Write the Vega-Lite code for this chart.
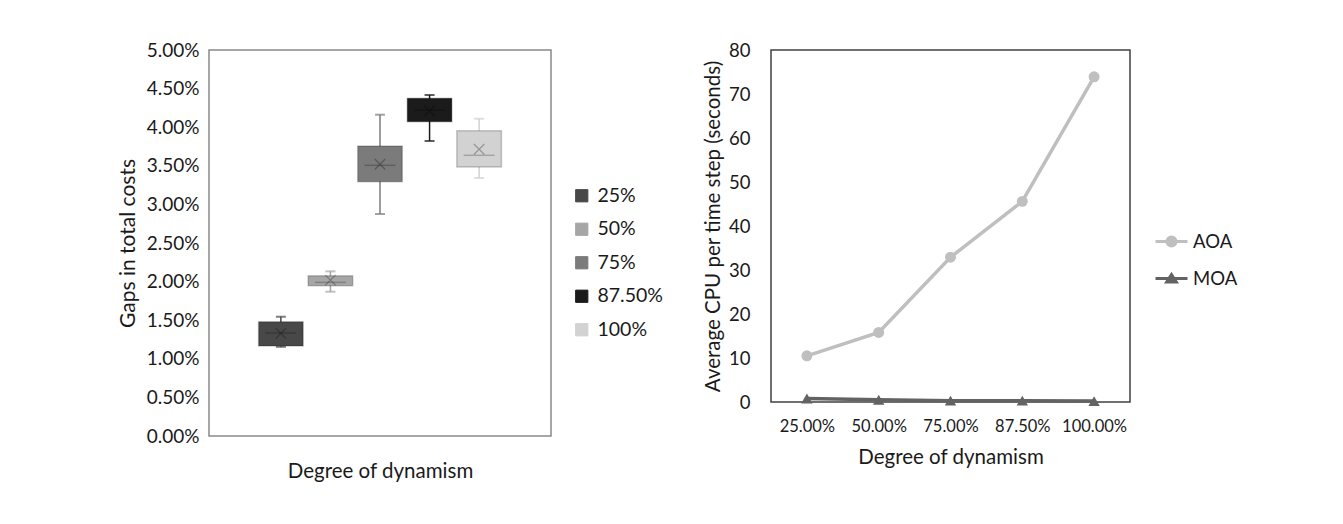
{
  "$schema": "https://vega.github.io/schema/vega-lite/v6.json",
  "background": "white",
  "padding": {"left": 116, "top": 40, "right": 5, "bottom": 5},
  "bounds": "flush",
  "spacing": 220,
  "resolve": {
    "scale": {"x": "independent", "y": "independent", "color": "independent"},
    "legend": {"color": "independent"}
  },
  "config": {
    "font": "Lato",
    "axis": {"labelColor": "#1a1a1a", "titleColor": "#1a1a1a", "titleFontWeight": "normal", "grid": false, "ticks": false, "domain": false, "labelFont": "Lato", "titleFont": "Lato", "labelOverlap": false},
    "legend": {"labelColor": "#1a1a1a", "labelFont": "Lato"}
  },
  "hconcat": [
    {
      "width": 342,
      "height": 386,
      "view": {"stroke": "#898989", "strokeWidth": 1.5},
      "data": {"values": [
        {"series": "25%", "min": 0.01155, "q1": 0.01166, "median": 0.01334, "q3": 0.0148, "max": 0.01545, "mean": 0.0133},
        {"series": "50%", "min": 0.01869, "q1": 0.01947, "median": 0.0199, "q3": 0.02076, "max": 0.02133, "mean": 0.0202},
        {"series": "75%", "min": 0.02876, "q1": 0.03294, "median": 0.03506, "q3": 0.03756, "max": 0.04162, "mean": 0.0352},
        {"series": "87.50%", "min": 0.03821, "q1": 0.0407, "median": 0.0422, "q3": 0.04374, "max": 0.04417, "mean": 0.0421},
        {"series": "100%", "min": 0.03342, "q1": 0.03484, "median": 0.03636, "q3": 0.03955, "max": 0.0411, "mean": 0.03714}
      ]},
      "encoding": {
        "x": {"field": "series", "type": "nominal", "sort": null,
          "scale": {"domain": ["25%", "50%", "75%", "87.50%", "100%"], "paddingInner": 0.1, "paddingOuter": 2.52},
          "axis": {"labels": false, "title": "Degree of dynamism", "titleFontSize": 20.5, "titlePadding": 25}},
        "y": {"field": "min", "type": "quantitative", "scale": {"domain": [0, 0.05]},
          "axis": {"values": [0, 0.005, 0.01, 0.015, 0.02, 0.025, 0.03, 0.035, 0.04, 0.045, 0.05], "labelOverlap": false, "format": ".2%", "labelFontSize": 19, "labelPadding": 10, "title": "Gaps in total costs", "titleFontSize": 21, "titlePadding": 8}}
      },
      "layer": [
        {
          "mark": {"type": "rule", "strokeWidth": 1.5},
          "encoding": {
            "y2": {"field": "max"},
            "color": {"field": "series", "type": "nominal", "sort": null,
              "scale": {"domain": ["25%", "50%", "75%", "87.50%", "100%"], "range": ["#484848", "#a6a6a6", "#7b7b7b", "#1b1b1b", "#d2d2d2"]},
              "legend": {"title": null, "orient": "none", "legendX": 363, "legendY": 136, "padding": 0, "symbolType": "square", "symbolSize": 150, "symbolStrokeWidth": 1, "symbolOpacity": 1, "labelFontSize": 19.5, "labelOffset": 6, "rowPadding": 12.5}}
          }
        },
        {
          "mark": {"type": "tick", "size": 10, "thickness": 2},
          "encoding": {
            "y": {"field": "max", "type": "quantitative"},
            "color": {"field": "series", "type": "nominal", "sort": null,
              "legend": {"title": null, "orient": "none", "legendX": 363, "legendY": 136, "padding": 0, "symbolType": "square", "symbolSize": 150, "symbolStrokeWidth": 1, "symbolOpacity": 1, "labelFontSize": 19.5, "labelOffset": 6, "rowPadding": 12.5}}
          }
        },
        {
          "mark": {"type": "tick", "size": 10, "thickness": 2},
          "encoding": {
            "color": {"field": "series", "type": "nominal", "sort": null,
              "legend": {"title": null, "orient": "none", "legendX": 363, "legendY": 136, "padding": 0, "symbolType": "square", "symbolSize": 150, "symbolStrokeWidth": 1, "symbolOpacity": 1, "labelFontSize": 19.5, "labelOffset": 6, "rowPadding": 12.5}}
          }
        },
        {
          "mark": {"type": "bar", "strokeWidth": 1.5, "stroke": "#000000", "strokeOpacity": 0.2},
          "encoding": {
            "y": {"field": "q1", "type": "quantitative"},
            "y2": {"field": "q3"},
            "color": {"field": "series", "type": "nominal", "sort": null,
              "legend": {"title": null, "orient": "none", "legendX": 363, "legendY": 136, "padding": 0, "symbolType": "square", "symbolSize": 150, "symbolStrokeWidth": 1, "symbolOpacity": 1, "labelFontSize": 19.5, "labelOffset": 6, "rowPadding": 12.5}}
          }
        },
        {
          "mark": {"type": "tick", "size": 31, "thickness": 1.5, "color": "#000000", "opacity": 0.22},
          "encoding": {
            "y": {"field": "median", "type": "quantitative"}
          }
        },
        {
          "mark": {"type": "point", "shape": "M-1,-1L1,1M1,-1L-1,1", "size": 110, "filled": false, "strokeWidth": 1.2, "stroke": "#000000", "opacity": 0.28},
          "encoding": {
            "y": {"field": "mean", "type": "quantitative"}
          }
        }
      ]
    },
    {
      "width": 359,
      "height": 352,
      "view": {"stroke": "#404040", "strokeWidth": 1.5},
      "data": {"values": [
        {"degree": "25.00%", "method": "AOA", "cpu": 10.5},
        {"degree": "50.00%", "method": "AOA", "cpu": 15.8},
        {"degree": "75.00%", "method": "AOA", "cpu": 32.9},
        {"degree": "87.50%", "method": "AOA", "cpu": 45.6},
        {"degree": "100.00%", "method": "AOA", "cpu": 73.9},
        {"degree": "25.00%", "method": "MOA", "cpu": 0.8},
        {"degree": "50.00%", "method": "MOA", "cpu": 0.5},
        {"degree": "75.00%", "method": "MOA", "cpu": 0.3},
        {"degree": "87.50%", "method": "MOA", "cpu": 0.3},
        {"degree": "100.00%", "method": "MOA", "cpu": 0.2}
      ]},
      "encoding": {
        "x": {"field": "degree", "type": "ordinal", "sort": null,
          "scale": {"type": "point", "padding": 0.5},
          "axis": {"labelAngle": 0, "labelFontSize": 16.5, "labelPadding": 16, "title": "Degree of dynamism", "titleFontSize": 20.5, "titlePadding": 13}},
        "y": {"field": "cpu", "type": "quantitative", "scale": {"domain": [0, 80]},
          "axis": {"values": [0, 10, 20, 30, 40, 50, 60, 70, 80], "labelFontSize": 18.5, "labelPadding": 21, "title": "Average CPU per time step (seconds)", "titleFontSize": 20.5, "titlePadding": 5}},
        "color": {"field": "method", "type": "nominal",
          "scale": {"domain": ["AOA", "MOA"], "range": ["#bfbfbf", "#636363"]},
          "legend": {"title": null, "orient": "none", "legendX": 383, "legendY": 174, "padding": 0, "symbolSize": 1024, "symbolStrokeWidth": 3, "symbolOpacity": 1, "labelFontSize": 18.5, "labelOffset": 4, "rowPadding": 9,
            "encode": {"symbols": {"update": {
              "shape": [{"test": "datum.value === 'AOA'", "value": "M-1,0H1M0.28,0A0.28,0.28,0,1,1,-0.28,0A0.28,0.28,0,1,1,0.28,0Z"}, {"value": "M-1,0H1M0,-0.25L0.3,0.22L-0.3,0.22Z"}]
            }}}}}
      },
      "layer": [
        {"mark": {"type": "line", "strokeWidth": 3.5}},
        {"transform": [{"filter": "datum.method === 'AOA'"}],
          "mark": {"type": "point", "shape": "circle", "filled": true, "opacity": 1, "size": 120}},
        {"transform": [{"filter": "datum.method === 'MOA'"}],
          "mark": {"type": "point", "shape": "triangle-up", "filled": true, "opacity": 1, "size": 130}}
      ]
    }
  ]
}
